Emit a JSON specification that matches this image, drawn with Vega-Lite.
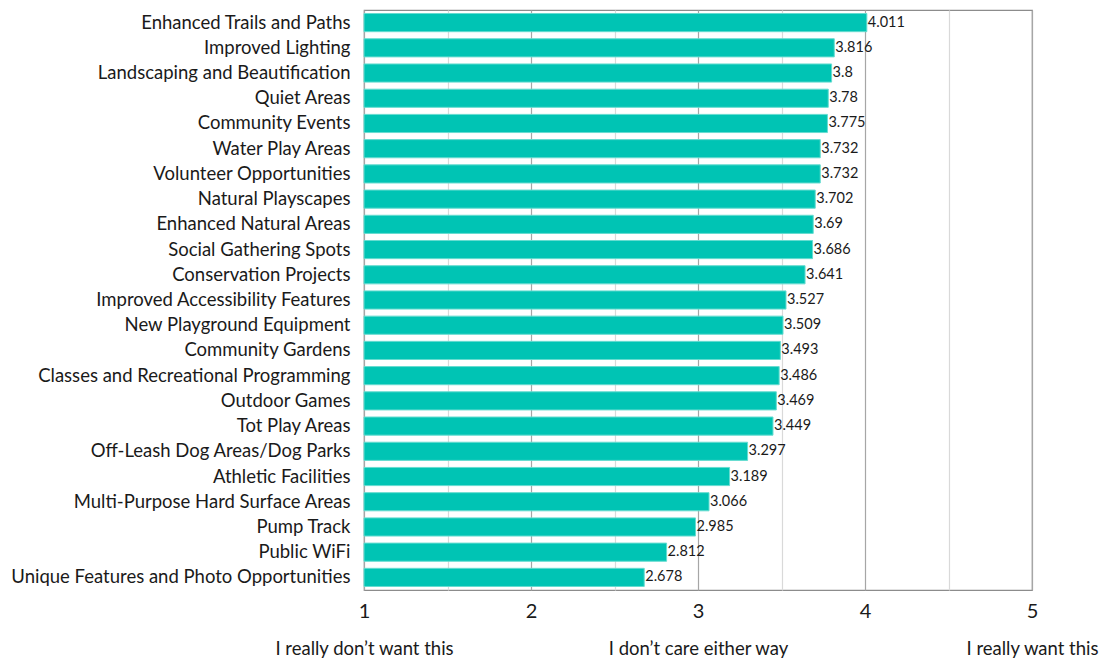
{
  "$schema": "https://vega.github.io/schema/vega-lite/v6.json",
  "width": 668,
  "height": 580,
  "padding": {"left": 10, "top": 10, "right": 0, "bottom": 0},
  "config": {
    "font": "Lato",
    "view": {"stroke": "#8c8c8c", "strokeWidth": 1.2}
  },
  "data": {
    "values": [
      {"item": "Enhanced Trails and Paths", "score": 4.011},
      {"item": "Improved Lighting", "score": 3.816},
      {"item": "Landscaping and Beautification", "score": 3.8},
      {"item": "Quiet Areas", "score": 3.78},
      {"item": "Community Events", "score": 3.775},
      {"item": "Water Play Areas", "score": 3.732},
      {"item": "Volunteer Opportunities", "score": 3.732},
      {"item": "Natural Playscapes", "score": 3.702},
      {"item": "Enhanced Natural Areas", "score": 3.69},
      {"item": "Social Gathering Spots", "score": 3.686},
      {"item": "Conservation Projects", "score": 3.641},
      {"item": "Improved Accessibility Features", "score": 3.527},
      {"item": "New Playground Equipment", "score": 3.509},
      {"item": "Community Gardens", "score": 3.493},
      {"item": "Classes and Recreational Programming", "score": 3.486},
      {"item": "Outdoor Games", "score": 3.469},
      {"item": "Tot Play Areas", "score": 3.449},
      {"item": "Off-Leash Dog Areas/Dog Parks", "score": 3.297},
      {"item": "Athletic Facilities", "score": 3.189},
      {"item": "Multi-Purpose Hard Surface Areas", "score": 3.066},
      {"item": "Pump Track", "score": 2.985},
      {"item": "Public WiFi", "score": 2.812},
      {"item": "Unique Features and Photo Opportunities", "score": 2.678}
    ]
  },
  "encoding": {
    "y": {
      "field": "item",
      "type": "nominal",
      "sort": null,
      "scale": {"paddingInner": 0.28, "paddingOuter": 0.14},
      "axis": {
        "title": null,
        "domain": false,
        "ticks": false,
        "labelFontSize": 18.5,
        "labelColor": "#1a1a1a",
        "labelPadding": 14,
        "labelLimit": 400
      }
    }
  },
  "layer": [
    {
      "mark": {"type": "bar", "color": "#00c4b4", "stroke": "#66dcd0", "strokeWidth": 1},
      "encoding": {
        "x": {
          "field": "score",
          "type": "quantitative",
          "scale": {"domain": [1, 5], "zero": false, "nice": false},
          "axis": {
            "orient": "bottom",
            "title": null,
            "values": [1, 1.5, 2, 2.5, 3, 3.5, 4, 4.5, 5],
            "format": ".0f",
            "labelExpr": "datum.value % 1 === 0 ? datum.label : ''",
            "labelFontSize": 20,
            "labelColor": "#1a1a1a",
            "labelPadding": 11,
            "labelFlush": false,
            "domain": false,
            "ticks": false,
            "grid": true,
            "gridColor": {"expr": "datum.value % 1 === 0 ? '#a6a6a6' : '#d9d9d9'"},
            "gridWidth": 1.2
          }
        },
        "x2": {"datum": 1}
      }
    },
    {
      "mark": {"type": "text", "align": "left", "dx": 1, "fontSize": 14.5, "color": "#1a1a1a"},
      "encoding": {
        "x": {
          "field": "score",
          "type": "quantitative",
          "axis": {
            "orient": "bottom",
            "title": null,
            "values": [1, 3, 5],
            "labelExpr": "datum.value === 1 ? 'I really don\u2019t want this' : datum.value === 3 ? 'I don\u2019t care either way' : 'I really want this'",
            "labelFontSize": 18.5,
            "labelColor": "#1a1a1a",
            "labelPadding": 0,
            "labelFlush": false,
            "labelLimit": 400,
            "offset": 49,
            "domain": false,
            "ticks": false,
            "grid": false,
            "labelOverlap": false
          }
        },
        "text": {"field": "score", "type": "quantitative"}
      }
    }
  ],
  "resolve": {"axis": {"x": "independent"}}
}
